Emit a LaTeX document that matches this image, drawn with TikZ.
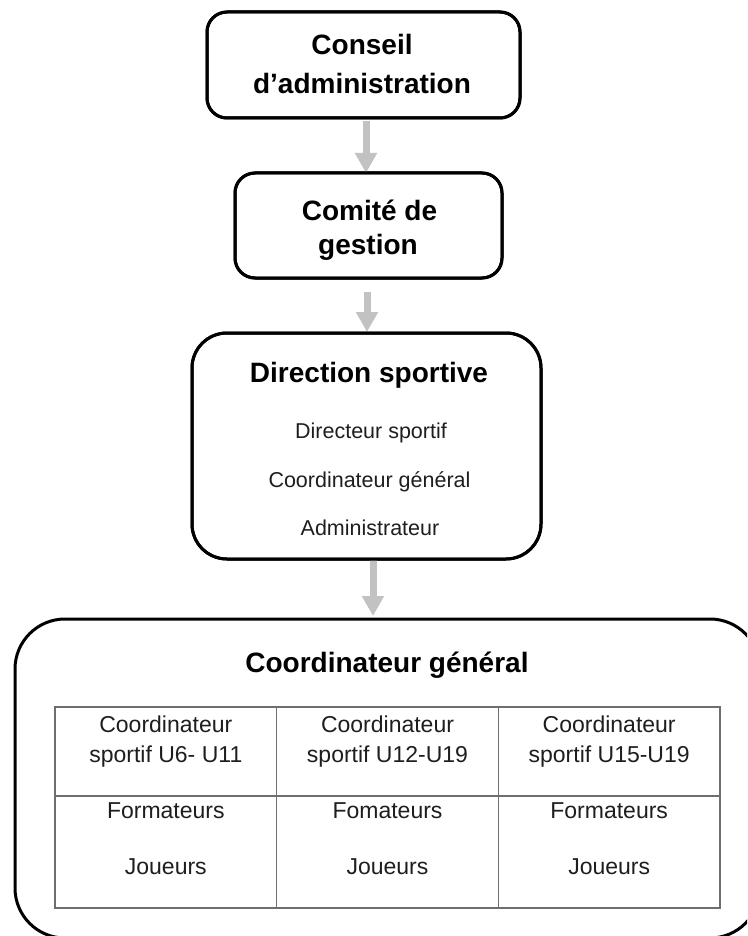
\documentclass[tikz,border=0pt]{standalone}
\usepackage{fontspec}
\setmainfont{Liberation Sans}
\usetikzlibrary{arrows.meta}
\definecolor{arr}{HTML}{C2C2C2}
\definecolor{gridc}{HTML}{6E6E6E}
\definecolor{txt}{HTML}{1E1E1E}
\begin{document}
\begin{tikzpicture}[x=1pt,y=-1pt,
 box/.style={draw=black, line width=3pt, rounded corners=#1, inner sep=0pt, outer sep=0pt},
 cell/.style={draw=gridc, line width=1.4pt, minimum width=221.67pt, inner sep=0pt, outer sep=0pt},
 ttl/.style={font=\fontsize{28}{30}\selectfont\bfseries, text=black, anchor=base, inner sep=0pt},
 sub/.style={font=\fontsize{21.5}{24}\selectfont, text=txt, anchor=base, inner sep=0pt},
 tab/.style={font=\fontsize{23}{26}\selectfont, text=txt, anchor=base, inner sep=0pt},
 arrow/.style={draw=arr, line width=7pt, -{Triangle[width=21pt,length=20pt]}}]
\clip (0,0) rectangle (747,936);

% box shapes (no text)
\path node[box=20pt, minimum width=313pt, minimum height=106pt] (b1) at (363.5,65) {}
      node[box=20pt, minimum width=267pt, minimum height=105pt] (b2) at (368.5,225.5) {}
      node[box=35pt, minimum width=349pt, minimum height=226pt] (b3) at (366.5,446) {}
      node[box=50pt, minimum width=745pt, minimum height=319pt] (big) at (387.5,778.5) {};

% arrow columns
\coordinate (a1) at (366,0);
\coordinate (a2) at (367,0);
\coordinate (a3) at (373,0);
\draw[arrow, shorten <=3pt] (b1.south -| a1) -- (b2.north -| a1);
\draw[arrow, shorten <=14pt, shorten >=1pt] (b2.south -| a2) -- (b3.north -| a2);
\draw[arrow, shorten >=3pt] (b3.south -| a3) -- (big.north -| a3);

% redraw borders on top
\path node[box=20pt, minimum width=313pt, minimum height=106pt] at (363.5,65) {}
      node[box=20pt, minimum width=267pt, minimum height=105pt] at (368.5,225.5) {}
      node[box=35pt, minimum width=349pt, minimum height=226pt] at (366.5,446) {};

% table cells
\node[cell, minimum height=89pt]  (c11) at (165.83,751.5) {};
\node[cell, minimum height=89pt]  (c12) at (387.5,751.5) {};
\node[cell, minimum height=89pt]  (c13) at (609.17,751.5) {};
\node[cell, minimum height=112pt] (c21) at (165.83,852) {};
\node[cell, minimum height=112pt] (c22) at (387.5,852) {};
\node[cell, minimum height=112pt] (c23) at (609.17,852) {};

% texts
\node[ttl] (t1a) at (362,55) {Conseil};
\node[ttl] (t1b) at (362,94) {d’administration};
\node[ttl] (t2a) at (369.5,220) {Comité de};
\node[ttl] (t2b) at (368,254) {gestion};
\node[ttl] (t3a) at (369,382) {Direction sportive};
\node[sub] (t3b) at (371,438) {Directeur sportif};
\node[sub] (t3c) at (369.5,487) {Coordinateur général};
\node[sub] (t3d) at (370,535) {Administrateur};
\node[ttl] (t4) at (387,672) {Coordinateur général};

\node[tab] (x11a) at (165.83,732) {Coordinateur};
\node[tab] (x11b) at (165.83,762) {sportif U6- U11};
\node[tab] (x12a) at (387.5,732) {Coordinateur};
\node[tab] (x12b) at (387.5,762) {sportif U12-U19};
\node[tab] (x13a) at (609.17,732) {Coordinateur};
\node[tab] (x13b) at (609.17,762) {sportif U15-U19};
\node[tab] (x21a) at (165.83,818) {Formateurs};
\node[tab] (x21b) at (165.83,874) {Joueurs};
\node[tab] (x22a) at (387.5,818) {Fomateurs};
\node[tab] (x22b) at (387.5,874) {Joueurs};
\node[tab] (x23a) at (609.17,818) {Formateurs};
\node[tab] (x23b) at (609.17,874) {Joueurs};
\end{tikzpicture}
\end{document}
